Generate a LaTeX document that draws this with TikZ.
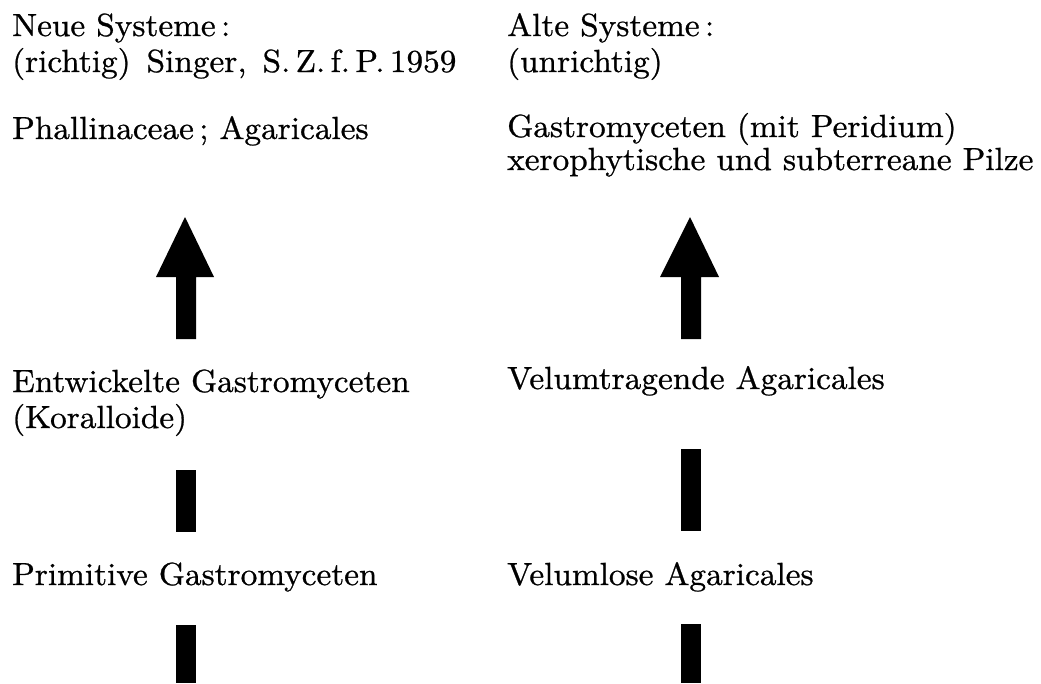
\documentclass[tikz,border=0pt]{standalone}
\usepackage{fontspec}
\setmainfont{lmroman10-regular.otf}[FakeStretch=1.04, FakeBold=0.8]
\usepackage{tikz}

\tikzset{
  lbl/.style={anchor=base west, inner sep=0pt, font=\fontsize{32}{38}\selectfont},
  balken/.style={fill=black}
}

\begin{document}
\begin{tikzpicture}[x=1pt, y=-1pt]
\useasboundingbox[fill=white] (0,0) rectangle (1041,683);

% linke Spalte
\node[lbl] (neue) at (12,36) {Neue Systeme\,:};
\node[lbl] (richtig) at (12,72) {(richtig)\enskip Singer,\enskip S.\,Z.\,f.\,P.\,1959};
\node[lbl] (phall) at (12,139) {Phallinaceae\,; Agaricales};
\node[lbl] (entw) at (12,392) {Entwickelte Gastromyceten};
\node[lbl] (koral) at (12,428) {(Koralloide)};
\node[lbl] (prim) at (12,585) {Primitive Gastromyceten};

% rechte Spalte
\node[lbl] (alte) at (507,36) {Alte Systeme\,:};
\node[lbl] (unrichtig) at (507,72) {(unrichtig)};
\node[lbl] (gastro) at (507,137) {Gastromyceten (mit Peridium)};
\node[lbl] (xero) at (507,170) {xerophytische und subterreane Pilze};
\node[lbl] (velt) at (507,389) {Velumtragende Agaricales};
\node[lbl] (vell) at (507,585) {Velumlose Agaricales};

% Pfeile links
\fill[balken] (176,339) -- (176,277) -- (156,277) -- (185,217) -- (214,277) -- (196,277) -- (196,339) -- cycle;
\fill[balken] (176,470) rectangle (196,532);
\fill[balken] (176,625) rectangle (196,683);

% Pfeile rechts
\fill[balken] (681,339) -- (681,277) -- (660,277) -- (690,217) -- (719,277) -- (701,277) -- (701,339) -- cycle;
\fill[balken] (681,449) rectangle (701,531);
\fill[balken] (681,624) rectangle (701,683);
\end{tikzpicture}
\end{document}
